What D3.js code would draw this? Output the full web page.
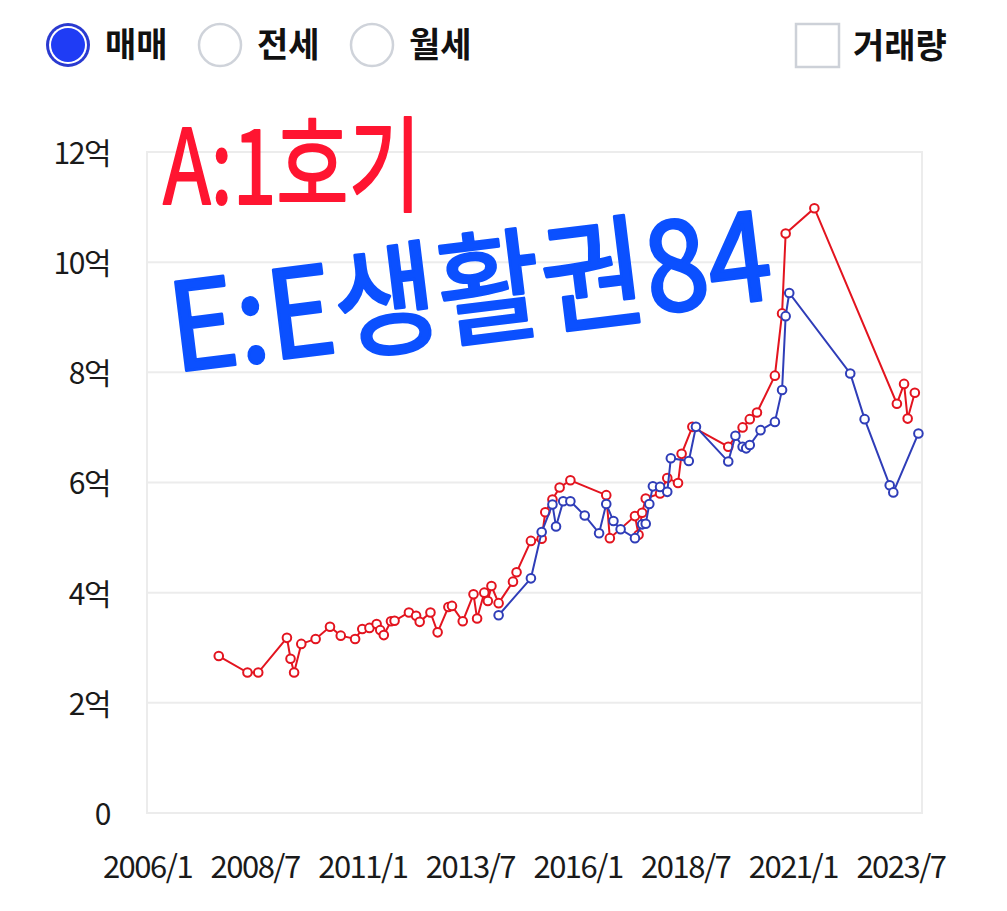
<!DOCTYPE html>
<html>
<head>
<meta charset="utf-8">
<script src="https://cdn.jsdelivr.net/npm/d3@7"></script>
<style>
  html, body { margin: 0; padding: 0; background: #fff; }
  svg { display: block; font-family: "Noto Sans CJK KR", "Noto Sans", sans-serif; }
</style>
</head>
<body>
<div id="chart"></div>
<script>
// A: 1호기 (red) — transaction dates and prices in 억
const redDates = ['2007-09','2008-05','2008-08','2009-04','2009-05','2009-06','2009-08','2009-12','2010-04','2010-07',
  '2010-11','2011-01','2011-03','2011-05','2011-06','2011-07','2011-09','2011-10','2012-02','2012-04',
  '2012-05','2012-08','2012-10','2013-01','2013-02','2013-05','2013-08','2013-09','2013-11','2013-12',
  '2014-01','2014-03','2014-07','2014-08','2014-12','2015-03','2015-04','2015-06','2015-08','2015-11',
  '2016-09','2016-10','2017-05','2017-06','2017-07','2017-08','2017-12','2018-02','2018-05','2018-06',
  '2018-09','2019-07','2019-11','2020-01','2020-03','2020-08','2020-10','2020-11','2021-07','2023-06',
  '2023-08','2023-09','2023-11'];
const redValues = [2.85,2.55,2.55,3.18,2.80,2.55,3.07,3.16,3.38,3.22,
  3.16,3.34,3.36,3.43,3.32,3.23,3.48,3.49,3.64,3.58,
  3.47,3.64,3.28,3.74,3.76,3.48,3.97,3.53,4.00,3.85,
  4.12,3.81,4.20,4.37,4.94,4.98,5.46,5.69,5.91,6.04,
  5.77,4.99,5.39,5.05,5.45,5.71,5.80,6.08,5.99,6.52,
  7.01,6.65,7.00,7.15,7.27,7.94,9.07,10.52,10.98,7.43,
  7.79,7.16,7.63];

// E: E생활권84 (blue)
const blueDates = ['2014-03','2014-12','2015-03','2015-06','2015-07','2015-09','2015-11','2016-03','2016-07','2016-09',
  '2016-11','2017-01','2017-05','2017-07','2017-08','2017-09','2017-10','2017-12','2018-02','2018-03',
  '2018-08','2018-10','2019-07','2019-09','2019-11','2019-12','2020-01','2020-04','2020-08','2020-10',
  '2020-11','2020-12','2022-05','2022-09','2023-04','2023-05','2023-12'];
const blueValues = [3.59,4.26,5.10,5.60,5.20,5.66,5.66,5.40,5.08,5.61,
  5.30,5.15,4.99,5.24,5.25,5.61,5.93,5.92,5.83,6.44,
  6.39,7.01,6.38,6.85,6.65,6.62,6.68,6.95,7.10,7.68,
  9.02,9.44,7.98,7.15,5.95,5.82,6.89];

const xTickLabels = ['2006/1','2008/7','2011/1','2013/7','2016/1','2018/7','2021/1','2023/7'];
const yTickValues = [0, 2, 4, 6, 8, 10, 12];
const legendItems = ['매매', '전세', '월세'];

const RED = '#e3141f', BLUE = '#2f3db8';
const W = 1007, H = 911;
const margin = { left: 147, right: 85, top: 152, bottom: 98 };

// month index counted from 2006/1
function monthIndex(s) {
  const [y, m] = s.split(/[-/]/).map(Number);
  return (y - 2006) * 12 + (m - 1);
}

const svg = d3.select('#chart').append('svg').attr('width', W).attr('height', H);

const x = d3.scaleLinear().domain([0, 216]).range([margin.left, W - margin.right]);
const y = d3.scaleLinear().domain([0, 12]).range([H - margin.bottom, margin.top]);

// grid
svg.append('g').selectAll('line').data(yTickValues).enter().append('line')
  .attr('x1', x(0)).attr('x2', x(216))
  .attr('y1', d => y(d)).attr('y2', d => y(d))
  .attr('stroke', '#ececec').attr('stroke-width', 2);
// plot frame
svg.append('rect')
  .attr('x', x(0)).attr('y', y(12)).attr('width', x(216) - x(0)).attr('height', y(0) - y(12))
  .attr('fill', 'none').attr('stroke', '#ececec').attr('stroke-width', 2);

// y axis labels
const yAxis = d3.axisLeft(y).tickValues(yTickValues).tickSize(0).tickPadding(37)
  .tickFormat(d => d === 0 ? '0' : d + '억');
svg.append('g').attr('transform', `translate(${x(0)},0)`).call(yAxis)
  .call(g => g.select('.domain').remove())
  .selectAll('text').attr('font-size', 30).attr('fill', '#1a1a1a')
  .attr('font-family', '"Noto Sans CJK KR", sans-serif').attr('letter-spacing', '-1.5').attr('dy', '0.38em');

// x axis labels
const xAxis = d3.axisBottom(x).tickValues(xTickLabels.map(monthIndex)).tickSize(0).tickPadding(43)
  .tickFormat((d, i) => xTickLabels[i]);
svg.append('g').attr('transform', `translate(0,${y(0)})`).call(xAxis)
  .call(g => g.select('.domain').remove())
  .selectAll('text').attr('font-size', 31).attr('fill', '#1a1a1a')
  .attr('font-family', '"Noto Sans CJK KR", sans-serif').attr('letter-spacing', '-1.5');

// series
function drawSeries(dates, values, color) {
  const pts = dates.map((d, i) => ({ m: monthIndex(d), v: values[i] }));
  const line = d3.line().x(d => x(d.m)).y(d => y(d.v));
  svg.append('path').datum(pts).attr('d', line)
    .attr('fill', 'none').attr('stroke', color).attr('stroke-width', 2);
  svg.append('g').selectAll('circle').data(pts).enter().append('circle')
    .attr('cx', d => x(d.m)).attr('cy', d => y(d.v)).attr('r', 4.3)
    .attr('fill', '#fff').attr('stroke', color).attr('stroke-width', 2);
}
drawSeries(redDates, redValues, RED);
drawSeries(blueDates, blueValues, BLUE);

// legend: radio buttons
const radioX = [68, 220, 372];
legendItems.forEach((label, i) => {
  const g = svg.append('g').attr('transform', `translate(${radioX[i]},45)`);
  if (i === 0) {
    g.append('circle').attr('r', 22).attr('fill', '#2a3ad0');
    g.append('circle').attr('r', 19).attr('fill', '#fff');
    g.append('circle').attr('r', 17).attr('fill', '#1f3cf5');
  } else {
    g.append('circle').attr('r', 21).attr('fill', '#fff').attr('stroke', '#cfd3da').attr('stroke-width', 2.5);
  }
  g.append('text').attr('x', 37).attr('dy', '0.36em').text(label)
    .attr('font-size', 34).attr('font-weight', 700).attr('fill', '#111');
});
// 거래량 checkbox
svg.append('rect').attr('x', 796).attr('y', 24).attr('width', 43).attr('height', 43)
  .attr('fill', '#fff').attr('stroke', '#cdd1d8').attr('stroke-width', 2.5);
svg.append('text').attr('x', 853).attr('y', 46).attr('dy', '0.36em').text('거래량')
  .attr('font-size', 34).attr('font-weight', 700).attr('fill', '#111');

// handwritten notes
svg.append('text').attr('x', 163).attr('y', 204).text('A:1호기')
  .attr('font-size', 104).attr('font-weight', 400).attr('fill', '#ff1531')
  .attr('stroke', '#ff1531').attr('stroke-width', 2).attr('stroke-linejoin', 'round')
  .attr('textLength', 258).attr('lengthAdjust', 'spacingAndGlyphs');
svg.append('text').attr('x', 175).attr('y', 372).text('E:E생활권84')
  .attr('transform', 'rotate(-7,175,372)')
  .attr('font-size', 122).attr('font-weight', 400).attr('fill', '#0b50ff')
  .attr('stroke', '#0b50ff').attr('stroke-width', 3).attr('stroke-linejoin', 'round')
  .attr('textLength', 605).attr('lengthAdjust', 'spacingAndGlyphs');
</script>
</body>
</html>
